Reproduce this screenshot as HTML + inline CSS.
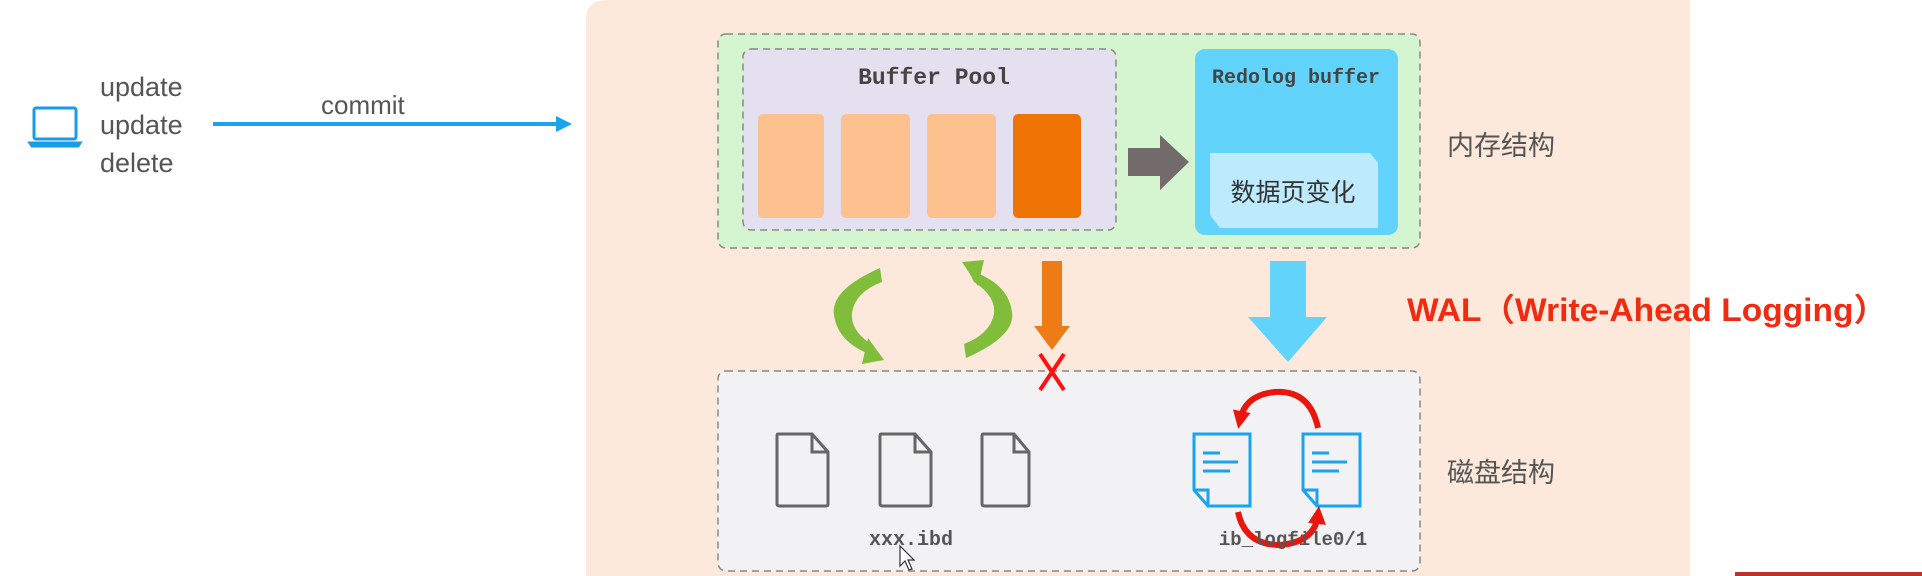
<!DOCTYPE html>
<html><head><meta charset="utf-8"><style>
html,body{margin:0;padding:0;background:#fff;width:1922px;height:576px;overflow:hidden}
svg{display:block}
.sans{font-family:"Liberation Sans","Noto Sans CJK SC",sans-serif}
.mono{font-family:"Liberation Mono","Noto Sans CJK SC",monospace;font-weight:bold}
</style></head><body>
<svg width="1922" height="576" viewBox="0 0 1922 576" xmlns="http://www.w3.org/2000/svg">
<defs>
<marker id="ah" viewBox="0 0 10 10" refX="5" refY="5" markerWidth="3" markerHeight="3" orient="auto"><path d="M0,0 L10,5 L0,10 z" fill="#e8160c"/></marker>
</defs>
<g fill="none" stroke="#1a9be8" stroke-width="3">
<rect x="34" y="108" width="42" height="31" rx="2"/>
<path d="M30,143 H80 L78,146 H32 Z"/>
</g>
<text class="sans" x="100" y="96" font-size="27" fill="#555">update</text>
<text class="sans" x="100" y="134" font-size="27" fill="#555">update</text>
<text class="sans" x="100" y="172" font-size="27" fill="#555">delete</text>
<text class="sans" x="321" y="114" font-size="26" fill="#555">commit</text>
<g>
<line x1="213" y1="124" x2="560" y2="124" stroke="#1aa3ee" stroke-width="4"/>
<path d="M556,116 L572,124 L556,132 Z" fill="#1aa3ee"/>
</g>
<path d="M606,0 H1690 V576 H586 V20 Q586,0 606,0 Z" fill="#fde9dc"/>
<rect x="718" y="34" width="702" height="214" rx="8" fill="#d4f5d0" stroke="#888" stroke-width="1.5" stroke-dasharray="7,5"/>
<rect x="743" y="49" width="373" height="181" rx="8" fill="#e4e0ef" stroke="#888" stroke-width="1.5" stroke-dasharray="7,5"/>
<text class="mono" x="934" y="84" font-size="23" fill="#444" text-anchor="middle">Buffer Pool</text>
<rect x="758" y="114" width="66" height="104" rx="5" fill="#fdc08f"/>
<rect x="841" y="114" width="69" height="104" rx="5" fill="#fdc08f"/>
<rect x="927" y="114" width="69" height="104" rx="5" fill="#fdc08f"/>
<rect x="1013" y="114" width="68" height="104" rx="5" fill="#f07306"/>
<path d="M1128,148 H1160 V135 L1189,162 L1160,190 V176 H1128 Z" fill="#736a6b"/>
<rect x="1195" y="49" width="203" height="186" rx="10" fill="#62d4fb"/>
<text class="mono" x="1212" y="83" font-size="20" fill="#444" font-weight="normal">Redolog buffer</text>
<path d="M1210,153 H1370 L1378,163 V228 H1220 L1210,215 Z" fill="#bdeafd"/>
<text class="sans" x="1293" y="201" font-size="25" fill="#333" text-anchor="middle">数据页变化</text>
<text class="sans" x="1447" y="155" font-size="27" fill="#555">内存结构</text>
<path d="M880,268 Q830,290 834,315 Q838,345 878,357 L872,345 Q850,330 852,313 Q855,292 882,282 Z" fill="#7fbd3b"/>
<path d="M868,338 L884,360 L862,364 Z" fill="#7fbd3b"/>
<path d="M966,358 Q1016,336 1012,312 Q1008,282 968,270 L974,282 Q996,296 994,314 Q990,334 964,344 Z" fill="#7fbd3b"/>
<path d="M978,286 L962,262 L984,260 Z" fill="#7fbd3b"/>
<path d="M1042,261 H1062 V326 H1070 L1052,350 L1034,326 H1042 Z" fill="#ee7c16"/>
<path d="M1270,261 H1306 V317 H1327 L1288,362 L1248,317 H1270 Z" fill="#62d4fb"/>
<text class="sans" x="1407" y="321" font-size="32" font-weight="bold" fill="#f12a10" textLength="480" lengthAdjust="spacingAndGlyphs">WAL（Write-Ahead Logging）</text>
<rect x="718" y="371" width="702" height="200" rx="8" fill="#f2f2f4" stroke="#888" stroke-width="1.5" stroke-dasharray="7,5"/>
<g stroke="#f11" stroke-width="4"><line x1="1040" y1="354" x2="1064" y2="390"/><line x1="1064" y1="354" x2="1040" y2="390"/></g>
<g fill="none" stroke="#666" stroke-width="3">
<path d="M778,434 H812 L828,452 V504 Q828,506 826,506 H780 Q777,506 777,504 V436 Q777,434 778,434 Z M812,434 V452 H828"/>
<path d="M881,434 H915 L931,452 V504 Q931,506 929,506 H883 Q880,506 880,504 V436 Q880,434 881,434 Z M915,434 V452 H931"/>
<path d="M983,434 H1014 L1029,452 V504 Q1029,506 1027,506 H985 Q982,506 982,504 V436 Q982,434 983,434 Z M1014,434 V452 H1029"/>
</g>
<text class="mono" x="911" y="545" font-size="20" fill="#555" text-anchor="middle">xxx.ibd</text>
<g fill="none" stroke="#1aa3ee" stroke-width="3">
<path d="M1194,434 H1250 V506 H1208 L1194,490 Z M1194,490 H1208 V506"/>
<path d="M1203,453 H1220 M1203,462 H1238 M1203,471 H1230"/>
<path d="M1303,434 H1360 V506 H1317 L1303,490 Z M1303,490 H1317 V506"/>
<path d="M1312,453 H1329 M1312,462 H1347 M1312,471 H1339"/>
</g>
<path d="M1318,428 Q1310,390 1275,392 Q1245,395 1240,420" fill="none" stroke="#e8160c" stroke-width="6" marker-end="url(#ah)"/>
<path d="M1238,512 Q1245,545 1280,545 Q1315,542 1318,515" fill="none" stroke="#e8160c" stroke-width="6" marker-end="url(#ah)"/>
<text class="mono" x="1293" y="545" font-size="19" fill="#555" font-weight="normal" text-anchor="middle">ib_logfile0/1</text>
<text class="sans" x="1447" y="482" font-size="27" fill="#555">磁盘结构</text>
<g><path d="M900,546 L900,566 L905,561 L909,570 L912,569 L908,560 L914,560 Z" fill="#fff" stroke="#333" stroke-width="1.2"/></g>
<rect x="1735" y="572" width="187" height="4" fill="#c0302a"/>
</svg>
</body></html>
